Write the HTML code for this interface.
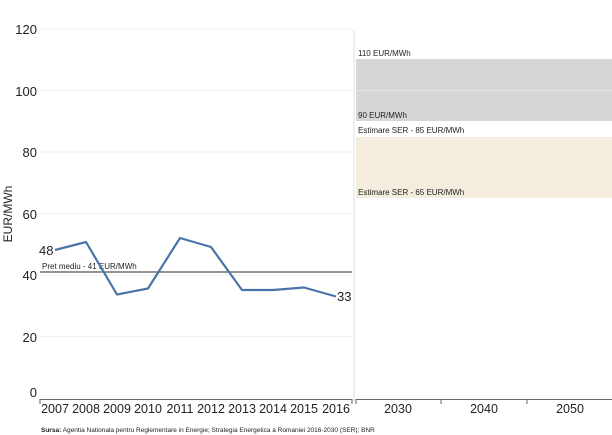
<!DOCTYPE html>
<html><head><style>
body{margin:0;background:#fff;}
svg{display:block;font-family:"Liberation Sans",sans-serif;}
</style></head><body>
<svg width="612" height="435" viewBox="0 0 612 435">
<g stroke="#eee" stroke-width="1">
<line x1="40" y1="29" x2="352" y2="29"/><line x1="40" y1="90.5" x2="352" y2="90.5"/>
<line x1="40" y1="152" x2="352" y2="152"/><line x1="40" y1="213.5" x2="352" y2="213.5"/>
<line x1="40" y1="275" x2="352" y2="275"/><line x1="40" y1="336.5" x2="352" y2="336.5"/>
</g>
<rect x="356" y="59" width="256" height="62" fill="#d6d6d6"/>
<rect x="356" y="137" width="256" height="61" fill="#f4ecdc"/>
<line x1="356" y1="90.5" x2="612" y2="90.5" stroke="#e6e6e6"/>
<line x1="356" y1="152" x2="612" y2="152" stroke="#f8f3ea"/>
<g font-size="8" fill="#222">
<text x="358" y="56">110 EUR/MWh</text>
<text x="358" y="118">90 EUR/MWh</text>
<text x="358" y="133">Estimare SER - 85 EUR/MWh</text>
<text x="358" y="195">Estimare SER - 65 EUR/MWh</text>
</g>
<g font-size="13" fill="#222" text-anchor="end">
<text x="37" y="34">120</text><text x="37" y="96">100</text><text x="37" y="157">80</text>
<text x="37" y="219">60</text><text x="37" y="280">40</text><text x="37" y="342">20</text><text x="37" y="397">0</text>
</g>
<text transform="translate(12,214) rotate(-90)" font-size="12" fill="#222" text-anchor="middle">EUR/MWh</text>
<line x1="40" y1="272" x2="352" y2="272" stroke="#555" stroke-width="1.3"/>
<text x="42" y="269" font-size="8" fill="#222">Pret mediu - 41 EUR/MWh</text>
<polyline fill="none" stroke="#4a74a8" stroke-width="2.2" stroke-linejoin="round"
points="55,250 86,242 117,294.5 148,288.5 180,238 211,247 242,290 273,290 304,287.5 336,296.5"/>
<text x="39" y="255" font-size="13" fill="#222">48</text>
<text x="337" y="301" font-size="13" fill="#222">33</text>
<line x1="40" y1="399.5" x2="352" y2="399.5" stroke="#666"/>
<line x1="356" y1="399.5" x2="612" y2="399.5" stroke="#666"/>
<line x1="354" y1="30" x2="354" y2="402" stroke="#ddd"/>
<g stroke="#666">
<line x1="40" y1="399" x2="40" y2="404"/><line x1="352" y1="399" x2="352" y2="404"/>
<line x1="356" y1="399" x2="356" y2="404"/><line x1="441" y1="399" x2="441" y2="404"/><line x1="527" y1="399" x2="527" y2="404"/>
</g>
<g font-size="12.5" fill="#222" text-anchor="middle">
<text x="55" y="413">2007</text><text x="86" y="413">2008</text><text x="117" y="413">2009</text>
<text x="148" y="413">2010</text><text x="180" y="413">2011</text><text x="211" y="413">2012</text>
<text x="242" y="413">2013</text><text x="273" y="413">2014</text><text x="304" y="413">2015</text>
<text x="336" y="413">2016</text>
<text x="398" y="413">2030</text><text x="484" y="413">2040</text><text x="570" y="413">2050</text>
</g>
<text x="41" y="432" font-size="6.5" fill="#222"><tspan font-weight="bold">Sursa:</tspan> Agentia Nationala pentru Reglementare in Energie; Strategia Energetica a Romaniei 2016-2030 (SER); BNR</text>
</svg>
</body></html>
